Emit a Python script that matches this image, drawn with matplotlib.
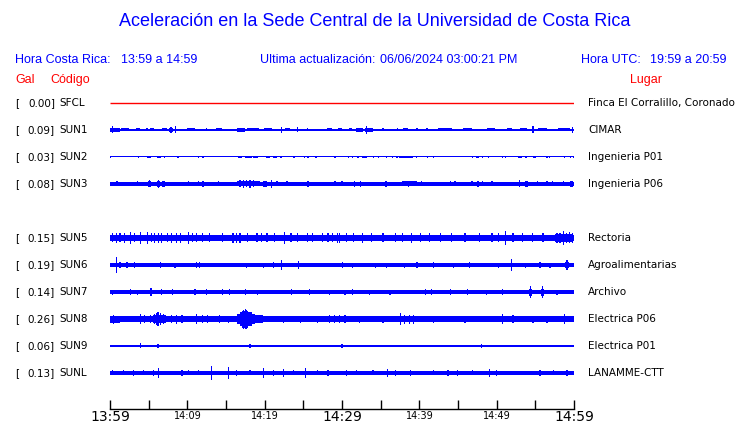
import matplotlib
matplotlib.use("Agg")
import matplotlib.pyplot as plt
from matplotlib.ticker import FixedLocator, FixedFormatter

# --- datos ---
codes = ["SFCL", "SUN1", "SUN2", "SUN3", "SUN5", "SUN6", "SUN7", "SUN8", "SUN9", "SUNL"]
gal = [0.00, 0.09, 0.03, 0.08, 0.15, 0.19, 0.14, 0.26, 0.06, 0.13]
places = ["Finca El Corralillo, Coronado", "CIMAR", "Ingenieria P01", "Ingenieria P06",
          "Rectoria", "Agroalimentarias", "Archivo", "Electrica P06", "Electrica P01",
          "LANAMME-CTT"]
rows = [0, 1, 2, 3, 5, 6, 7, 8, 9, 10]   # SUN4 no aparece

# ruido de fondo (media amplitud, en px)
base_amp = [0.5, 0.6, 0.5, 1.7, 3.0, 1.6, 1.6, 2.7, 1.3, 1.6]

# eventos: (inicio min, fin min, media amplitud px), minutos desde 13:59
ev_sfcl = []
ev_sun1 = [(0.0, 1.3, 2), (0.3, 0.3, 3.5), (1.4, 2.5, 1.5), (3.4, 3.9, 1.5), (4.7, 4.9, 1.5),
           (5.2, 5.7, 1.5), (6.7, 7.4, 1.5), (7.6, 8.2, 2), (7.9, 7.9, 3), (8.5, 8.5, 3.5),
           (10.0, 11.0, 1.5), (12.5, 12.5, 1.5), (13.7, 14.5, 1.5), (16.4, 17.5, 2),
           (17.7, 19.3, 1.5), (19.9, 21.0, 1.5), (22.2, 22.2, 3), (22.6, 23.3, 1.5),
           (24.2, 24.2, 2.5), (25.5, 25.5, 1.5), (28.1, 28.7, 1.5), (29.5, 30.0, 1.5),
           (30.9, 31.3, 1.5), (31.8, 32.7, 2), (33.0, 34.0, 2), (33.2, 33.2, 4),
           (35.3, 35.3, 1.5), (37.2, 37.2, 1.5), (37.9, 38.5, 1.5), (39.7, 39.7, 1.5),
           (41.0, 41.0, 1.5), (42.4, 44.2, 1.5), (45.7, 46.8, 1.5), (48.8, 49.8, 1.5),
           (51.3, 52.0, 1.5), (53.0, 53.9, 1.5), (54.7, 54.7, 3.5), (55.3, 56.5, 1.5),
           (57.9, 59.5, 1.5), (59.8, 59.8, 3)]
ev_sun2 = [(0.1, 0.1, 1.3), (3.7, 3.7, 1.3), (4.8, 5.3, 1.2), (6.1, 6.6, 1.2), (7.0, 7.0, 1.3),
           (8.8, 8.8, 1.3), (11.4, 11.4, 1.3), (11.9, 12.2, 1.2), (16.6, 17.1, 1.2),
           (17.5, 18.4, 1.2), (18.5, 19.1, 1.2), (20.2, 20.7, 1.2), (21.1, 21.6, 1.2),
           (22.1, 22.1, 1.3), (23.8, 23.8, 1.3), (25.2, 25.2, 1.3), (25.6, 25.6, 1.3),
           (26.5, 26.8, 1.2), (29.1, 29.1, 1.3), (30.8, 30.8, 1.3), (31.4, 31.4, 1.3),
           (31.9, 32.2, 1.2), (32.6, 33.2, 1.2), (34.1, 34.1, 1.3), (34.7, 34.7, 1.3),
           (35.8, 35.8, 1.3), (36.5, 36.5, 1.3), (37.1, 37.1, 1.3), (37.4, 39.2, 1.2),
           (39.6, 39.6, 1.3), (41.1, 41.1, 1.3), (41.8, 41.8, 1.3), (46.9, 46.9, 1.3),
           (47.3, 47.7, 1.2), (48.2, 48.2, 1.3), (48.9, 48.9, 1.3), (50.8, 50.8, 1.3),
           (51.1, 51.1, 1.3), (52.8, 53.3, 1.2), (53.8, 53.8, 1.3), (54.7, 55.1, 1.2),
           (56.5, 56.5, 1.3), (56.8, 56.8, 1.3), (58.8, 58.8, 1.3), (59.5, 59.5, 1.3),
           (59.9, 59.9, 1.3)]
ev_sun3 = [(0.9, 0.9, 2.5), (3.6, 3.6, 2.5), (4.9, 5.3, 2.6), (5.1, 5.1, 3.5), (6.1, 6.5, 2.6),
           (6.3, 6.3, 3.8), (6.7, 7.1, 2.6), (6.9, 6.9, 3.2), (10.1, 10.1, 2.5),
           (11.4, 11.4, 2.5), (11.9, 12.2, 2.6), (14.0, 14.0, 2.5), (16.4, 19.4, 2.5),
           (16.8, 16.8, 3.5), (17.3, 17.3, 4), (17.7, 17.7, 3.5), (18.1, 18.1, 4),
           (18.6, 18.6, 3.5), (19.8, 20.3, 2.6), (20.9, 20.9, 4), (21.6, 21.6, 2.5),
           (22.9, 22.9, 2.5), (25.6, 25.6, 3), (29.1, 29.1, 2.5), (30.0, 30.0, 2.5),
           (31.0, 33.2, 2.4), (31.6, 31.6, 3), (32.4, 32.4, 3), (33.6, 34.4, 2.4),
           (34.9, 36.6, 2.3), (35.7, 35.7, 3), (37.8, 39.7, 2.5), (38.6, 38.6, 3),
           (40.3, 40.3, 2.5), (41.0, 41.6, 2.4), (44.0, 44.0, 2.5), (44.6, 44.6, 2.5),
           (46.8, 46.8, 2.5), (47.5, 47.7, 3), (48.2, 48.2, 2.5), (49.4, 49.4, 2.5),
           (52.1, 53.3, 2.3), (53.0, 53.0, 3.5), (53.7, 54.0, 2.8), (55.3, 55.3, 2.5),
           (56.5, 56.5, 2.5), (57.2, 57.2, 2.5), (58.6, 58.6, 2.5), (59.5, 59.9, 2.8)]
ev_sun5 = [(0.3, 0.3, 4.5), (0.8, 0.8, 5), (1.3, 1.3, 4.5), (1.9, 1.9, 5), (2.6, 2.6, 6),
           (3.2, 3.2, 4.5), (3.9, 3.9, 6), (4.8, 4.8, 6), (5.4, 5.4, 4.5), (5.8, 5.8, 5),
           (6.3, 6.3, 5), (6.7, 6.7, 5), (7.4, 7.4, 4.5), (8.0, 8.0, 5), (8.6, 8.6, 5),
           (9.1, 9.1, 5), (10.1, 10.1, 6), (10.7, 10.7, 4.5), (11.2, 11.2, 4.5),
           (12.0, 12.0, 4.5), (12.9, 12.9, 4.5), (14.5, 14.5, 4.5), (15.9, 15.9, 5),
           (16.4, 16.4, 5), (16.8, 16.8, 5), (17.8, 17.8, 4.5), (19.0, 19.0, 4.5),
           (19.6, 19.6, 4.5), (20.3, 20.3, 4.5), (21.3, 21.3, 4.5), (22.6, 22.6, 6),
           (23.4, 23.4, 4.5), (24.2, 24.2, 4.5), (25.5, 25.5, 4.5), (26.2, 26.2, 4.5),
           (27.5, 27.5, 4.5), (28.2, 28.2, 4.5), (28.8, 28.8, 4.5), (29.4, 29.4, 5),
           (29.7, 29.7, 5), (30.6, 30.6, 4.5), (31.5, 31.5, 4.5), (32.6, 32.6, 5),
           (33.8, 33.8, 4.5), (35.3, 35.3, 4.5), (36.9, 36.9, 4.5), (37.8, 37.8, 4.5),
           (39.0, 39.0, 5), (40.1, 40.1, 4.5), (41.3, 41.3, 4.5), (42.7, 42.7, 4.5),
           (44.2, 44.2, 4.5), (45.9, 45.9, 4.5), (47.8, 47.8, 4.5), (49.4, 49.4, 4.5),
           (50.2, 50.2, 4.5), (51.1, 51.1, 7), (52.1, 52.1, 4.5), (53.3, 53.3, 4.5),
           (54.6, 54.6, 4.5), (56.0, 56.0, 4.5), (57.6, 59.9, 3.8), (57.8, 57.8, 5),
           (58.2, 58.2, 5), (58.6, 58.6, 7), (59.0, 59.0, 5), (59.4, 59.4, 5.5),
           (59.8, 59.8, 5)]
ev_sun6 = [(0.8, 0.8, 8), (1.3, 1.3, 3), (2.2, 2.2, 3), (3.2, 3.2, 3), (6.5, 6.5, 3),
           (8.4, 8.4, 2.5), (11.2, 11.2, 3), (11.6, 11.6, 3), (15.8, 16.6, 2.3), (17.7, 17.7, 2.5),
           (19.8, 19.8, 2.5), (21.1, 21.1, 3), (22.2, 22.2, 5), (24.4, 24.4, 4), (25.9, 27.2, 2.2),
           (30.1, 30.1, 3), (31.4, 31.4, 2.5), (34.3, 34.3, 2.5), (35.8, 35.8, 2.5),
           (38.1, 38.1, 2.5), (39.7, 39.7, 3), (41.8, 41.8, 3), (44.4, 44.4, 2.5),
           (46.5, 46.5, 3), (50.2, 50.2, 2.5), (51.9, 51.9, 6), (53.7, 53.7, 2.5),
           (55.6, 55.6, 3), (56.9, 56.9, 2.5), (59.1, 59.1, 5), (58.9, 59.4, 3)]
ev_sun7 = [(0.3, 0.3, 2.5), (2.6, 2.6, 3), (3.6, 3.6, 2.5), (5.3, 5.3, 4), (6.7, 6.7, 3),
           (7.5, 8.8, 2.3), (8.1, 8.1, 3), (11.0, 11.0, 3), (12.0, 12.9, 2.3), (12.5, 12.5, 3),
           (14.5, 14.5, 3), (15.5, 15.5, 3), (17.5, 17.5, 3), (19.1, 19.1, 2.5),
           (20.4, 21.1, 2.2), (23.5, 23.5, 3), (25.2, 26.2, 2.3), (25.8, 25.8, 3),
           (28.4, 28.4, 2.5), (30.4, 30.4, 2.5), (31.4, 31.4, 3), (33.6, 33.6, 2.5),
           (36.2, 36.2, 2.5), (40.1, 42.3, 2.3), (40.8, 40.8, 3), (41.6, 41.6, 3),
           (44.0, 44.0, 3), (46.2, 46.2, 3), (48.7, 48.7, 2.5), (50.8, 50.8, 3),
           (54.4, 54.4, 6), (54.2, 54.6, 3.5), (55.9, 55.9, 6), (55.7, 56.1, 3.5),
           (57.8, 57.8, 2.5)]
ev_sun8 = [(0.0, 1.3, 3.5), (0.5, 0.5, 4.5), (3.9, 3.9, 5), (4.5, 4.5, 4), (5.2, 5.2, 4),
           (5.6, 7.2, 3.8), (5.8, 5.8, 5), (6.0, 6.0, 6), (6.2, 6.2, 7), (6.5, 6.5, 6),
           (6.9, 6.9, 5), (8.0, 8.0, 4), (8.6, 8.6, 4.5), (9.3, 9.3, 4), (11.2, 11.2, 5),
           (12.0, 12.0, 4), (12.6, 12.6, 4), (14.2, 14.2, 4), (15.3, 15.3, 3.5),
           (16.4, 18.8, 5), (16.8, 18.3, 7), (17.1, 17.9, 8.5), (17.3, 17.3, 9.5),
           (17.5, 17.5, 10), (17.7, 17.7, 9.5), (18.8, 19.8, 3.8), (22.4, 22.4, 3.5),
           (24.6, 24.6, 3.5), (26.8, 26.8, 3.5), (28.4, 28.4, 4), (29.0, 29.0, 4),
           (29.7, 29.7, 4), (30.4, 30.4, 4), (32.3, 32.3, 3.5), (35.3, 35.3, 3.5),
           (37.6, 37.6, 6), (38.1, 38.1, 4.5), (38.7, 38.7, 4.5), (39.2, 39.2, 4.5),
           (41.8, 41.8, 3.5), (45.9, 45.9, 3.5), (50.8, 50.8, 5), (52.1, 52.1, 4),
           (54.7, 54.7, 3.5), (56.5, 56.5, 3.5), (58.8, 58.8, 5), (58.3, 59.9, 3.3)]
ev_sun9 = [(3.9, 3.9, 2.5), (6.2, 6.2, 2), (18.1, 18.1, 2), (30.0, 30.0, 1.8),
           (48.0, 48.0, 1.8)]
ev_sunl = [(0.3, 0.3, 2.5), (1.7, 1.7, 2.5), (3.0, 3.0, 3), (4.3, 4.3, 2.5), (5.6, 5.6, 3),
           (6.3, 6.3, 5), (9.3, 9.3, 3), (10.1, 10.1, 2.5), (11.4, 11.4, 2.5), (13.1, 13.1, 7),
           (15.3, 15.3, 6), (16.4, 16.4, 3), (18.1, 18.1, 2.5), (19.9, 19.9, 5), (21.1, 21.1, 3),
           (22.4, 22.4, 4), (23.7, 23.7, 2.5), (25.3, 25.3, 5), (26.8, 26.8, 2.5),
           (28.2, 28.2, 3), (30.6, 30.6, 3), (31.9, 31.9, 2.5), (34.0, 34.0, 2.5),
           (35.9, 35.9, 4), (36.9, 36.9, 3), (38.4, 39.4, 2.3), (38.9, 38.9, 3),
           (41.8, 41.8, 2.5), (43.7, 43.7, 3), (44.9, 44.9, 3), (46.9, 46.9, 2.5),
           (49.1, 49.1, 4), (50.0, 50.0, 3), (52.6, 53.9, 2.2), (55.6, 55.6, 3),
           (57.3, 57.3, 2.5), (59.1, 59.1, 3)]
events = [ev_sfcl, ev_sun1, ev_sun2, ev_sun3, ev_sun5, ev_sun6, ev_sun7, ev_sun8, ev_sun9, ev_sunl]

major_ticks = [0, 30, 60]
major_labels = ["13:59", "14:29", "14:59"]
minor_ticks = [5, 10, 15, 20, 25, 35, 40, 45, 50, 55]
minor_labels = ["", "14:09", "", "14:19", "", "", "14:39", "", "14:49", ""]

BLUE = "#0000ff"
RED = "#ff0000"
W, H = 740, 423
ROW_PX = 27.0
PX_MIN = 60.0 / 464.0   # minutos por pixel


def fx(x):
    return x / W


def fy(y):
    return 1 - y / H


fig = plt.figure(figsize=(7.4, 4.23), dpi=100)
fig.patch.set_facecolor("white")

hdr = dict(family="Liberation Sans", color=BLUE, va="center")
fig.text(fx(375), fy(22), "Aceleración en la Sede Central de la Universidad de Costa Rica",
         ha="center", fontsize=13, **hdr)
fig.text(fx(15), fy(60), "Hora Costa Rica:", fontsize=9, **hdr)
fig.text(fx(121), fy(60), "13:59 a 14:59", fontsize=9, **hdr)
fig.text(fx(260), fy(60), "Ultima actualización:", fontsize=9, **hdr)
fig.text(fx(380), fy(60), "06/06/2024 03:00:21 PM", fontsize=9, **hdr)
fig.text(fx(581), fy(60), "Hora UTC:", fontsize=9, **hdr)
fig.text(fx(650), fy(60), "19:59 a 20:59", fontsize=9, **hdr)

red = dict(family="Liberation Sans", color=RED, va="center", fontsize=9)
fig.text(fx(15), fy(80), "Gal", **red)
fig.text(fx(50), fy(80), "Código", **red)
fig.text(fx(630), fy(80), "Lugar", **red)

# eje de las trazas
top_px, bot_px, left_px, right_px = 90, 409, 110, 574
ax = fig.add_axes([fx(left_px), fy(bot_px), (right_px - left_px) / W, (bot_px - top_px) / H])
first_row_px = 103
ax.set_xlim(0, 60)
ax.set_ylim((bot_px - first_row_px) / ROW_PX, -(first_row_px - top_px) / ROW_PX)
ax.set_facecolor("none")
for s in ["left", "right", "top"]:
    ax.spines[s].set_visible(False)
ax.spines["bottom"].set_linewidth(1.0)
ax.set_yticks([])

for i, r in enumerate(rows):
    col = RED if gal[i] == 0 else BLUE
    b = base_amp[i] / ROW_PX
    if gal[i] == 0:
        ax.hlines(r, 0, 60, color=col, linewidth=1.0)
    else:
        ax.fill_between([0, 60], r - b, r + b, color=col, linewidth=0)
    for t0, t1, a in events[i]:
        w = max(t1 - t0, 1.2 * PX_MIN)
        x0 = t0 if t1 > t0 else t0 - w / 2
        h = a / ROW_PX
        ax.bar(x0, 2 * h, width=w, bottom=r - h, align="edge", color=col, linewidth=0)

    lab_y = fy(first_row_px + r * ROW_PX)
    fig.text(fx(15), lab_y, "[", fontsize=7.5, va="center", color="black")
    fig.text(fx(55), lab_y, "%.2f]" % gal[i], fontsize=7.5, va="center", ha="right", color="black")
    fig.text(fx(59), lab_y, codes[i], fontsize=7.5, va="center", color="black")
    fig.text(fx(588), lab_y, places[i], fontsize=7.5, va="center", color="black")

ax.xaxis.set_major_locator(FixedLocator(major_ticks))
ax.xaxis.set_major_formatter(FixedFormatter(major_labels))
ax.xaxis.set_minor_locator(FixedLocator(minor_ticks))
ax.xaxis.set_minor_formatter(FixedFormatter(minor_labels))
ax.tick_params(axis="x", which="major", direction="in", length=6.5, width=1, pad=0.5,
               labelsize=10)
ax.tick_params(axis="x", which="minor", direction="in", length=6.5, width=1, pad=1.5,
               labelsize=7)

fig.savefig("out.png", dpi=100)
